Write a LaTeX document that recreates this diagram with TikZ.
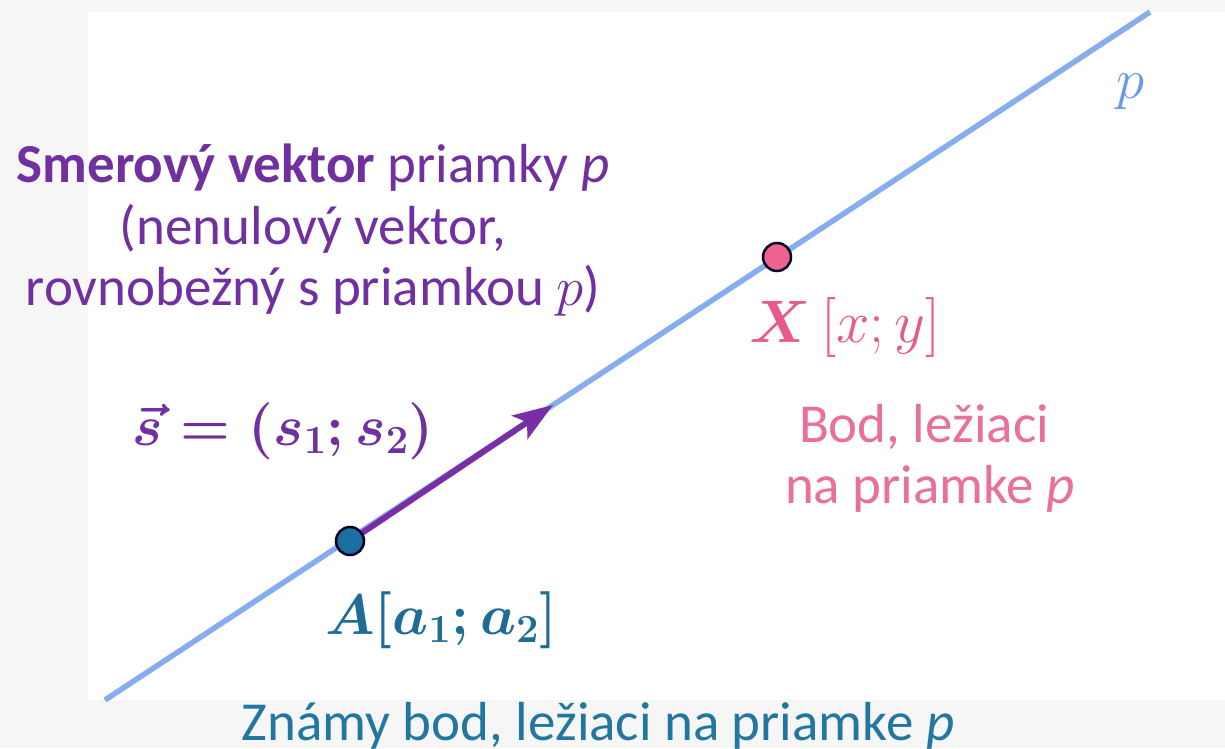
\RequirePackage{fix-cm}
\documentclass[tikz,border=0pt]{standalone}
\usepackage{amsmath}
\usepackage{fontspec}
\setmainfont{Carlito}
\usetikzlibrary{arrows.meta}
\definecolor{bgc}{HTML}{F6F6F6}
\definecolor{linec}{HTML}{86AEEF}
\definecolor{purp}{HTML}{7030A0}
\definecolor{arrc}{HTML}{7A2EA6}
\definecolor{pinkt}{HTML}{E9709A}
\definecolor{pinkx}{HTML}{E85A8C}
\definecolor{pinkp}{HTML}{F06292}
\definecolor{tealt}{HTML}{1E6C97}
\definecolor{tealb}{HTML}{2177A0}
\definecolor{ptA}{HTML}{1A6FA0}
\definecolor{pc}{HTML}{6A98EA}
\tikzset{
  pt/.style={circle, draw=black!85!blue, line width=2.5pt, minimum size=28pt, inner sep=0pt},
  txt/.style={font=\fontsize{55}{63}\selectfont, align=center, inner sep=0pt},
  mth/.style={font=\fontsize{57}{60}\selectfont\boldmath, inner sep=0pt},
  mthr/.style={font=\fontsize{57}{60}\selectfont, inner sep=0pt},
}
\begin{document}
\begin{tikzpicture}[x=1pt,y=-1pt]
\useasboundingbox (0,0) rectangle (1225,748);
\fill[bgc] (0,0) rectangle (1225,748);
\fill[white] (88,12) rectangle (1225,700);
\coordinate (L1) at (105,700);
\coordinate (L2) at (1150,12);
\coordinate (Ac) at (350,541);
\coordinate (T) at (553,405);
\draw[linec, line width=5.5pt] (L1) -- (L2);
\draw[arrc, line width=6pt, -{Stealth[length=40pt, width=28pt, inset=9pt]}] (Ac) -- (T);
\node[pt, fill=ptA] (A) at (Ac) {};
\node[pt, fill=pinkp] (X) at (777,257) {};
\node[mthr, text=pc, anchor=base] (pl) at (1130,98) {$p$};
\node[txt, text=purp, anchor=base] (t1) at (313,182) {\textbf{Smerový vektor} priamky \textit{p}};
\node[txt, text=purp, anchor=base] (t2) at (313,244) {(nenulový vektor,};
\node[txt, text=purp, anchor=base] (t3) at (313,305) {rovnobežný s priamkou $p$)};
\node[mth, text=purp, anchor=base] (sv) at (283,445) {$\vec{s}=(s_1;s_2)$};
\node[mthr, font=\fontsize{60}{60}\selectfont, text=pinkx, anchor=base] (xl) at (845,342) {$\boldsymbol{X}\,[x;y]$};
\node[txt, text=pinkt, anchor=base] (b1) at (924,442) {Bod, ležiaci};
\node[txt, text=pinkt, anchor=base] (b2) at (930,503) {na priamke \textit{p}};
\node[mth, text=tealt, anchor=base] (al) at (441,634) {$A[a_1;a_2]$};
\node[txt, text=tealb, anchor=base] (zb) at (598,740) {Známy bod, ležiaci na priamke \textit{p}};
\end{tikzpicture}
\end{document}
